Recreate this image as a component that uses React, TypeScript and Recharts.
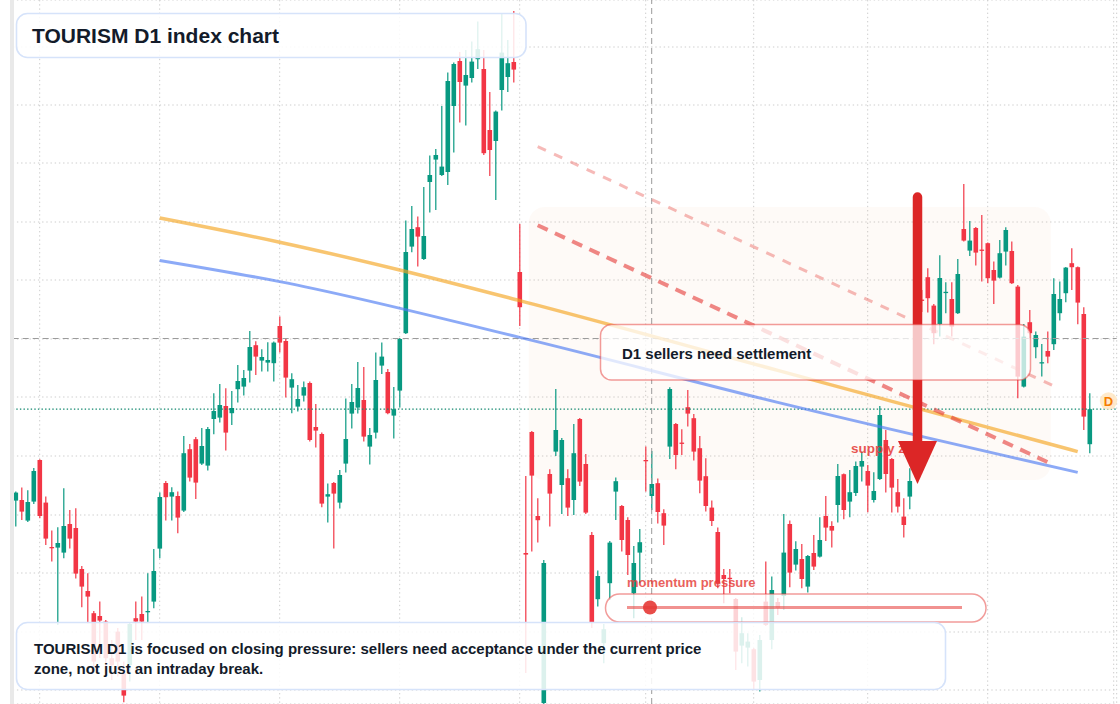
import React from 'react';
import {
  ComposedChart,
  Bar,
  Line,
  XAxis,
  YAxis,
  CartesianGrid,
  ReferenceArea,
  ReferenceLine,
} from 'recharts';

// Daily OHLC of the TOURISM index, oldest first.
const OPEN = [
  1149.7, 1150, 1139.7, 1149.2, 1170, 1148.7, 1126.5, 1126.2, 1123.7, 1138,
  1136, 1115.5, 1104.5, 1093.4, 1092, 1089.2, 1070.9, 1084.2, 1063.4, 1067.5,
  1090.9, 1093, 1094, 1099.2, 1125.7, 1158.5, 1151.7, 1152, 1144.7, 1175.4,
  1180.4, 1168.2, 1167.2, 1190.5, 1191.2, 1197, 1193.4, 1205.4, 1206.7, 1214.7,
  1227.4, 1219.7, 1218.7, 1218.4, 1237, 1229.5, 1206.2, 1196.7, 1202.2, 1208.5,
  1186.5, 1183, 1151.7, 1158.5, 1148.7, 1168.2, 1193.2, 1196.2, 1200, 1176.7,
  1183.7, 1217.2, 1214, 1192.2, 1204.7, 1233.4, 1276.7, 1286.4, 1270.5, 1309,
  1320.2, 1312.5, 1314, 1347, 1369.5, 1357.2, 1361, 1370.4, 1365.5, 1335,
  1329.5, 1355, 1361.5, 1369, 1264, 1123.5, 1184, 1142, 1048.5, 1163,
  1174.2, 1157.5, 1160.9, 1150, 1190.5, 1168, 1132.5, 1100.4, 1078.4, 1108.4,
  1154.2, 1147, 1140, 1103.4, 1123.7, 1170, 1152, 1158.4, 1143.4, 1176.7,
  1188, 1178.7, 1196.4, 1190.9, 1175.9, 1161.9, 1146.2, 1134, 1112.5, 1111.1,
  1100.5, 1077.2, 1076.2, 1075.4, 1060, 1099.2, 1080, 1099, 1102, 1138,
  1117.7, 1120.5, 1106.7, 1123.5, 1121.7, 1142, 1137, 1147.5, 1162.9, 1149.2,
  1153.5, 1166.7, 1164.5, 1150, 1160.5, 1180, 1170.5, 1153.9, 1141.7, 1151.7,
  1200, 1250.2, 1261.4, 1247.2, 1238, 1253.6, 1250.5, 1243.4, 1285.5, 1274.7,
  1286, 1275.2, 1278.4, 1265, 1261.2, 1274.2, 1274.5, 1256.7, 1206.7, 1238.9,
  1226.4, 1218.4, 1224.5, 1227.9, 1243.4, 1253.4, 1268.4, 1266.4, 1243, 1177.9,
];

const HIGH = [
  1154.2, 1156.2, 1154.9, 1166, 1170.4, 1151.7, 1134.7, 1136.4, 1155.9, 1145,
  1145.9, 1117, 1113.4, 1094.5, 1099.2, 1090, 1080, 1086, 1069.2, 1089,
  1099.2, 1101.7, 1113.4, 1125.5, 1153.7, 1159.5, 1156.4, 1154.2, 1182, 1178,
  1181.5, 1186, 1186.5, 1203.4, 1208, 1205.9, 1204.5, 1217.5, 1215, 1234.5,
  1229.4, 1225.4, 1228.9, 1229.2, 1241.7, 1230.9, 1213.4, 1207.5, 1209.2, 1209.2,
  1198, 1183.7, 1158.2, 1159, 1165, 1200.7, 1208, 1219, 1216.5, 1186,
  1223.7, 1228.7, 1215.5, 1206.5, 1231, 1289.7, 1297, 1291.7, 1306.5, 1322.2,
  1325.5, 1347, 1363.7, 1368.7, 1374, 1375, 1379.2, 1389.2, 1375, 1354,
  1344.7, 1393.4, 1380, 1394.5, 1288, 1162, 1184.5, 1150.9, 1120, 1165.4,
  1205.5, 1181, 1165.4, 1188, 1191, 1173, 1134, 1114.7, 1088, 1129.5,
  1161.2, 1147.5, 1141.4, 1127, 1135.5, 1176.7, 1174.5, 1160.7, 1145.4, 1206.4,
  1188.5, 1185.4, 1205, 1193, 1182, 1170.9, 1149.7, 1136.2, 1115.5, 1115.5,
  1101, 1091.4, 1083.4, 1076, 1082.5, 1119.2, 1111.7, 1101, 1143, 1139.7,
  1129.4, 1128, 1122.5, 1132.5, 1141.4, 1152, 1139.4, 1168, 1163.3, 1165,
  1169.2, 1174.2, 1167.5, 1163.9, 1197, 1185, 1171, 1160.5, 1150.9, 1165.9,
  1247, 1255, 1265.9, 1248, 1272.4, 1258.9, 1258.9, 1270.5, 1308, 1289.5,
  1286.5, 1292.5, 1278.7, 1269.2, 1280, 1286.4, 1279.2, 1257.5, 1238, 1245,
  1234.2, 1228, 1234.2, 1260.9, 1259.2, 1266.5, 1275.9, 1266.7, 1246.4, 1203.4,
];

const LOW = [
  1136.7, 1140, 1139, 1148, 1140.9, 1127.5, 1119.2, 1087.5, 1120.9, 1125.7,
  1110.7, 1096.4, 1088.4, 1063.5, 1071, 1066, 1060, 1061.7, 1048.9, 1059.2,
  1080, 1080, 1088.4, 1095.9, 1120.9, 1139.7, 1139.7, 1133.4, 1144, 1159.2,
  1150.5, 1167.5, 1164.7, 1182.9, 1188.7, 1174.7, 1187.5, 1198.7, 1202.2, 1208.7,
  1212.5, 1214.2, 1214.2, 1209.2, 1223.7, 1201.2, 1193.4, 1194.2, 1199.2, 1179.2,
  1176.2, 1146.4, 1138.7, 1125.7, 1145.7, 1163.7, 1185.7, 1193.2, 1179.2, 1167.7,
  1180.7, 1213, 1192.9, 1180.7, 1196.2, 1233, 1273.9, 1266.7, 1270, 1293.7,
  1295, 1312, 1307.5, 1323.7, 1338.7, 1337.2, 1358.7, 1365.5, 1322.5, 1312,
  1300, 1344.7, 1354, 1358.7, 1237, 1063.5, 1124.2, 1128.7, 1048, 1136.7,
  1172, 1143, 1142, 1142.5, 1157, 1143, 1086, 1096.7, 1068.4, 1100,
  1140, 1124.2, 1112.5, 1090.9, 1108.4, 1154.2, 1145, 1138.2, 1127.5, 1170.5,
  1165.4, 1172.5, 1186.7, 1169.7, 1153.4, 1144.2, 1137, 1105.9, 1098.4, 1103.4,
  1065, 1068.4, 1066.7, 1055, 1054.2, 1087, 1075.4, 1092.5, 1095, 1106.4,
  1114.7, 1105.9, 1103.7, 1115, 1121.2, 1129.5, 1126.2, 1138.7, 1140.4, 1141.4,
  1152, 1159.2, 1143.9, 1148.7, 1160, 1153.7, 1143.7, 1143.7, 1131.2, 1145.4,
  1189.2, 1244, 1243.7, 1227.9, 1231.7, 1243.4, 1231.7, 1243, 1279.2, 1272,
  1267.2, 1259.2, 1258.4, 1248, 1260.7, 1267.2, 1258, 1200.9, 1206.2, 1230.9,
  1220.9, 1211.7, 1218.4, 1225, 1239.7, 1248.9, 1255, 1237.9, 1185, 1173.4,
];

const CLOSE = [
  1153.7, 1144.2, 1149, 1164.5, 1142, 1130.7, 1126, 1128.5, 1137, 1130.7,
  1113.2, 1106.7, 1101.7, 1069.2, 1089.7, 1070.9, 1067.5, 1069.2, 1052.2, 1088,
  1089.2, 1089.2, 1094.5, 1114.5, 1151.5, 1151.4, 1153.9, 1141.2, 1173.4, 1161.2,
  1158.7, 1177, 1185.5, 1194.5, 1197.5, 1183.7, 1196, 1209.5, 1211, 1226.5,
  1221.7, 1221.5, 1220, 1228.7, 1228.7, 1211.2, 1210.4, 1200.5, 1206.4, 1180,
  1184.7, 1148.2, 1152.9, 1153.2, 1162.5, 1180.5, 1199, 1206, 1181.7, 1182.5,
  1210, 1221.7, 1193.4, 1195.4, 1230.5, 1274, 1285.5, 1281.7, 1282, 1312.5,
  1322.5, 1316.7, 1359.5, 1368, 1359, 1362.5, 1369.2, 1375.4, 1323.4, 1325,
  1344.2, 1373.7, 1368.4, 1365.2, 1246.4, 1122.7, 1162.2, 1139.9, 1118.5, 1153.2,
  1185, 1180, 1146.2, 1173.4, 1159.2, 1143.7, 1089, 1112, 1085.4, 1128.7,
  1159.4, 1130, 1122.5, 1118.5, 1128.9, 1169.5, 1158, 1144, 1137.2, 1205.5,
  1172.5, 1178.2, 1193.2, 1174.2, 1159.7, 1147, 1139.5, 1108.4, 1110.5, 1110.6,
  1074.2, 1083.4, 1079.2, 1059.2, 1080, 1087.5, 1105, 1096, 1123.7, 1113.7,
  1125.5, 1110.5, 1122, 1116.7, 1130, 1136.2, 1134.7, 1162, 1145, 1153.9,
  1167, 1169.5, 1157.2, 1154.5, 1192.5, 1163, 1156.2, 1146.7, 1137.5, 1159.5,
  1235, 1249.7, 1250.9, 1233.4, 1261, 1254.1, 1236.7, 1263, 1279.7, 1279.7,
  1273.7, 1274.7, 1260.9, 1259.7, 1273.4, 1285, 1258.4, 1211.7, 1231.7, 1233.4,
  1232.5, 1218.9, 1221.7, 1253, 1250.5, 1266.2, 1266.4, 1248.7, 1191.7, 1195.4,
];

// Empty sessions kept on the right edge of the time axis.
const FUTURE_SLOTS = 4;

// Session indices of the vertical (month) grid lines and price levels of the horizontal grid.
const X_GRID = [4, 24, 44, 64, 84, 105, 123, 142, 162, 183];
const Y_GRID = [1055, 1084, 1113.5, 1142.5, 1172, 1201.5, 1230.5, 1260, 1289, 1318.5, 1347.5, 1376.5];

// Moving-average curves as [session, level] anchors.
const SLOW_AVG: [number, number][] = [
  [24, 1291], [44, 1278.9], [64, 1265], [84, 1249.7], [127, 1214.8], [177, 1174.2],
];
const FAST_AVG: [number, number][] = [
  [24, 1269.8], [44, 1259.2], [84, 1231.3], [127, 1198.8], [177, 1163.8],
];

// Descending seller channel.
const CHANNEL_LOWER: [number, number][] = [[87, 1287.4], [173, 1167.5]];
const CHANNEL_UPPER: [number, number][] = [[87, 1326.7], [173, 1207]];

// Supply zone bounds: sessions and prices.
const ZONE_SESSIONS = [86, 172];
const ZONE_PRICES = [1160, 1296.5];

// Crosshair position.
const CROSS_SESSION = 106;
const CROSS_PRICE = 1230.75;

const PRICE_DOMAIN = [1048, 1400];

const UP = '#089981';
const DOWN = '#f23645';
const FONT = '"Liberation Sans", Arial, Helvetica, sans-serif';

const toMap = (pts: [number, number][]) => {
  const m: Record<number, number> = {};
  pts.forEach(([i, v]) => (m[i] = v));
  return m;
};

const slowMap = toMap(SLOW_AVG);
const fastMap = toMap(FAST_AVG);
const lowerMap = toMap(CHANNEL_LOWER);
const upperMap = toMap(CHANNEL_UPPER);

const ROWS = Array.from({ length: OPEN.length + FUTURE_SLOTS }, (_, i) => ({
  i,
  open: i < OPEN.length ? OPEN[i] : null,
  high: i < OPEN.length ? HIGH[i] : null,
  low: i < OPEN.length ? LOW[i] : null,
  close: i < OPEN.length ? CLOSE[i] : null,
  range: i < OPEN.length ? [LOW[i], HIGH[i]] : null,
  slow: slowMap[i] ?? null,
  fast: fastMap[i] ?? null,
  lower: lowerMap[i] ?? null,
  upper: upperMap[i] ?? null,
}));

const LAST_CLOSE = CLOSE[CLOSE.length - 1];

const Candle = (props: any) => {
  const { x, y, width, height, index } = props;
  const d = props.payload ?? ROWS[index];
  if (!d || d.open == null || !isFinite(y) || !isFinite(height)) return <g />;
  const top = Math.min(y, y + height);
  const h = Math.abs(height);
  const k = h / (d.high - d.low);
  const py = (p: number) => top + (d.high - p) * k;
  const cx = x + width / 2;
  const color = d.close >= d.open ? UP : DOWN;
  const bTop = py(Math.max(d.open, d.close));
  const bBot = py(Math.min(d.open, d.close));
  const bw = 4.6;
  return (
    <g>
      <line x1={cx} x2={cx} y1={top} y2={top + h} stroke={color} strokeWidth={1.2} />
      <rect x={cx - bw / 2} y={bTop} width={bw} height={Math.max(bBot - bTop, 1.3)} fill={color} />
    </g>
  );
};

export default function App() {
  return (
    <div
      style={{
        position: 'absolute',
        left: 0,
        top: 0,
        width: 1120,
        height: 704,
        background: '#ffffff',
        overflow: 'hidden',
      }}
    >
      <ComposedChart
        width={1120}
        height={704}
        data={ROWS}
        margin={{ top: 0, right: 3.3, bottom: 0, left: 12.7 }}
      >
        <CartesianGrid stroke="#cdcdcd" strokeDasharray="1.4 2.8" />
        <XAxis dataKey="i" type="category" hide ticks={X_GRID} interval={0} />
        <YAxis hide type="number" domain={PRICE_DOMAIN} allowDataOverflow ticks={Y_GRID} />
        <ReferenceArea
          x1={ZONE_SESSIONS[0]}
          x2={ZONE_SESSIONS[1]}
          y1={ZONE_PRICES[0]}
          y2={ZONE_PRICES[1]}
          fill="#e8a27a"
          fillOpacity={0.06}
          stroke="none"
          radius={16}
        />
        <ReferenceLine x={CROSS_SESSION} stroke="#9b9b9b" strokeDasharray="6 4" strokeWidth={1} />
        <ReferenceLine y={CROSS_PRICE} stroke="#9b9b9b" strokeDasharray="6 4" strokeWidth={1} />
        <ReferenceLine y={LAST_CLOSE} stroke="#10876e" strokeDasharray="1.4 2.2" strokeWidth={1.2} />
        <Bar dataKey="range" shape={Candle} isAnimationActive={false} />
        <Line
          dataKey="slow"
          type="monotone"
          connectNulls
          dot={false}
          stroke="#f5a623"
          strokeOpacity={0.65}
          strokeWidth={3.5}
          isAnimationActive={false}
        />
        <Line
          dataKey="fast"
          type="monotone"
          connectNulls
          dot={false}
          stroke="#4f7df3"
          strokeOpacity={0.65}
          strokeWidth={3}
          isAnimationActive={false}
        />
        <Line
          dataKey="upper"
          type="linear"
          connectNulls
          dot={false}
          stroke="#e53935"
          strokeOpacity={0.35}
          strokeWidth={3}
          strokeDasharray="9 9"
          isAnimationActive={false}
        />
        <Line
          dataKey="lower"
          type="linear"
          connectNulls
          dot={false}
          stroke="#e53935"
          strokeOpacity={0.6}
          strokeWidth={4}
          strokeDasharray="11 8"
          isAnimationActive={false}
        />
      </ComposedChart>

      <svg
        width={1120}
        height={704}
        style={{ position: 'absolute', left: 0, top: 0, pointerEvents: 'none' }}
      >
        <rect x={10} y={0} width={4} height={704} fill="#e9e9e9" />

        <text x={851} y={453} fontFamily={FONT} fontSize={13.5} fontWeight={700} fill="#e53935" opacity={0.85}>
          supply zone
        </text>

        <line x1={917.5} y1={197} x2={917.5} y2={446} stroke="#dc2626" strokeWidth={9.5} strokeLinecap="round" />
        <polygon points="898,441 937,441 917.5,484" fill="#dc2626" />

        <rect
          x={600.5}
          y={324.5}
          width={430}
          height={55.5}
          rx={11}
          fill="#ffffff"
          fillOpacity={0.74}
          stroke="#e53935"
          strokeOpacity={0.5}
          strokeWidth={1.5}
        />
        <text x={622} y={358.5} fontFamily={FONT} fontSize={15} fontWeight={700} fill="#131b2a">
          D1 sellers need settlement
        </text>

        <text x={627} y={586.5} fontFamily={FONT} fontSize={13} fontWeight={700} fill="#e53935" opacity={0.8}>
          momentum pressure
        </text>
        <rect
          x={605.5}
          y={594}
          width={380.5}
          height={28}
          rx={14}
          fill="#ffffff"
          fillOpacity={0.78}
          stroke="#e53935"
          strokeOpacity={0.5}
          strokeWidth={1.5}
        />
        <line x1={627} y1={607.5} x2={962} y2={607.5} stroke="#e53935" strokeOpacity={0.55} strokeWidth={3} />
        <circle cx={650} cy={607.5} r={7} fill="#e53935" opacity={0.9} />

        <rect
          x={16.5}
          y={13.5}
          width={509.5}
          height={44}
          rx={11}
          fill="#ffffff"
          fillOpacity={0.86}
          stroke="#d6e3fa"
          strokeWidth={1.6}
        />
        <text x={32} y={43.3} fontFamily={FONT} fontSize={21} fontWeight={700} fill="#131b2a">
          TOURISM D1 index chart
        </text>

        <rect
          x={16.5}
          y={622.5}
          width={929}
          height={67}
          rx={11}
          fill="#ffffff"
          fillOpacity={0.86}
          stroke="#d6e3fa"
          strokeWidth={1.6}
        />
        <text x={34} y={653.5} fontFamily={FONT} fontSize={15} fontWeight={700} fill="#131b2a">
          TOURISM D1 is focused on closing pressure: sellers need acceptance under the current price
        </text>
        <text x={34} y={673.5} fontFamily={FONT} fontSize={15} fontWeight={700} fill="#131b2a">
          zone, not just an intraday break.
        </text>

        <circle cx={1108.5} cy={401} r={8.7} fill="#ffe6c2" opacity={0.85} />
        <text
          x={1108.5}
          y={405.8}
          textAnchor="middle"
          fontFamily={FONT}
          fontSize={13}
          fontWeight={700}
          fill="#f57c00"
        >
          D
        </text>
      </svg>
    </div>
  );
}
